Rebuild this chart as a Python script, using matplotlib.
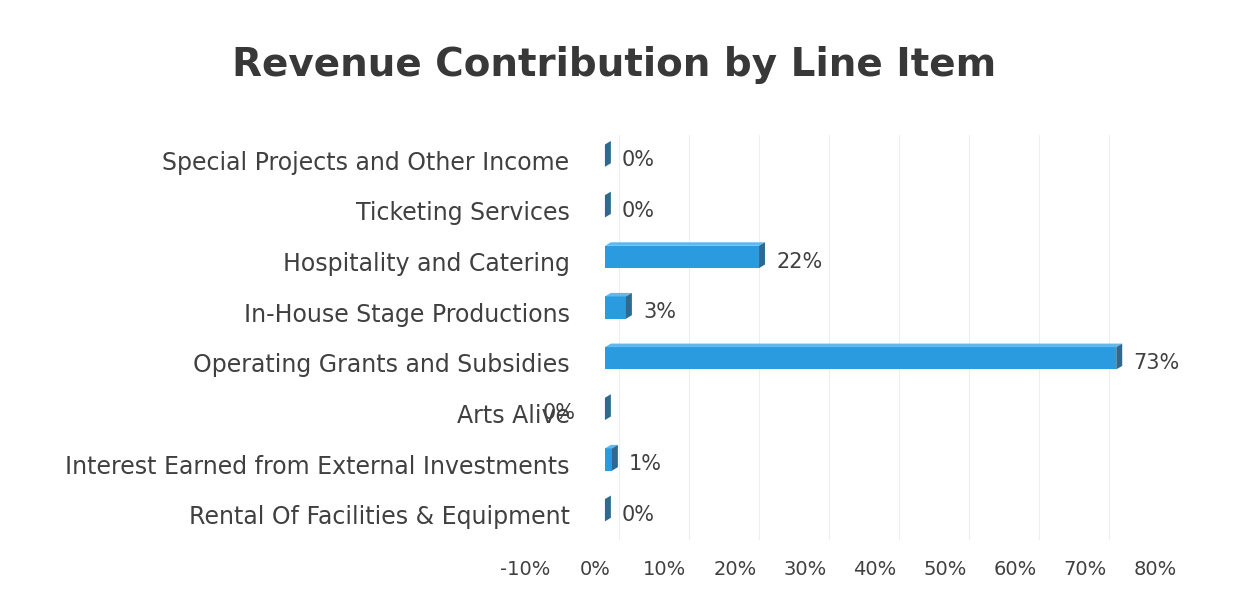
import matplotlib
matplotlib.use('Agg')
from matplotlib import pyplot as plt
from matplotlib import transforms
from matplotlib.patches import Polygon, Rectangle
from matplotlib.ticker import FuncFormatter

categories = [
    'Special Projects and Other Income',
    'Ticketing Services',
    'Hospitality and Catering',
    'In-House Stage Productions',
    'Operating Grants and Subsidies',
    'Arts Alive',
    'Interest Earned from External Investments',
    'Rental Of Facilities & Equipment',
]
shares = [0, 0, 22, 3, 73, 0, 1, 0]
x_ticks = [-10, 0, 10, 20, 30, 40, 50, 60, 70, 80]

TEXT = '#404040'
FRONT = '#2b9be0'
TOP = '#62b8ec'
SIDE = '#2f6a8e'

plt.rcParams['font.family'] = ['DejaVu Sans']

fig = plt.figure(figsize=(12.41, 5.89), dpi=100)
ax = fig.add_axes([0.431, 0.083, 0.508, 0.688])

n = len(categories)
h = 0.44      # bar thickness in row units
lift = 0.09   # bars sit a little above the row centre
dx = 0.85     # depth of the fake 3d side, in percent
dy = 0.07     # depth rise, in row units

for i, (name, v) in enumerate(zip(categories, shares)):
    y = n - 1 - i
    y0, y1 = y + lift - h / 2, y + lift + h / 2
    if v > 0:
        ax.add_patch(Rectangle((0, y0), v, h, facecolor=FRONT, edgecolor='none', zorder=3))
        ax.add_patch(Polygon([(0, y1), (v, y1), (v + dx, y1 + dy), (dx, y1 + dy)],
                             closed=True, facecolor=TOP, edgecolor='none', zorder=3))
    ax.add_patch(Polygon([(v, y0), (v + dx, y0 + dy), (v + dx, y1 + dy), (v, y1)],
                         closed=True, facecolor=SIDE, edgecolor='none', zorder=4))
    if name == 'Arts Alive':
        # this one sits to the left of the axis, over the category name
        ax.annotate('%d%%' % v, (0, y), xytext=(-21, 0), textcoords='offset points',
                    ha='right', va='center', fontsize=15, color=TEXT, zorder=5,
                    annotation_clip=False)
    else:
        ax.annotate('%d%%' % v, (v + dx, y), xytext=(8, 0), textcoords='offset points',
                    ha='left', va='center', fontsize=15, color=TEXT, zorder=5)

ax.set_xlim(-10, 80)
ax.set_ylim(-0.5, n - 0.5)
ax.set_xticks(x_ticks)
ax.xaxis.set_major_formatter(FuncFormatter(lambda v, p: '%d%%' % v))
ax.set_yticks(range(n))
ax.set_yticklabels(categories[::-1])
ax.tick_params(axis='y', length=0, pad=-25, labelsize=17, labelcolor=TEXT)
ax.tick_params(axis='x', length=0, pad=14, labelsize=14, labelcolor=TEXT)
shift = transforms.ScaledTranslation(-10 / 100, 0, fig.dpi_scale_trans)
for lbl in ax.get_xticklabels():
    lbl.set_transform(lbl.get_transform() + shift)
for s in ax.spines.values():
    s.set_visible(False)
for t in x_ticks[1:]:
    ax.axvline(t + 2, color='#eeeeee', linewidth=0.8, zorder=0)

fig.text(0.495, 0.89, 'Revenue Contribution by Line Item', ha='center', va='center',
         fontsize=28, fontweight='bold', color='#383838')

fig.savefig('out.png', dpi=100, facecolor='white')
